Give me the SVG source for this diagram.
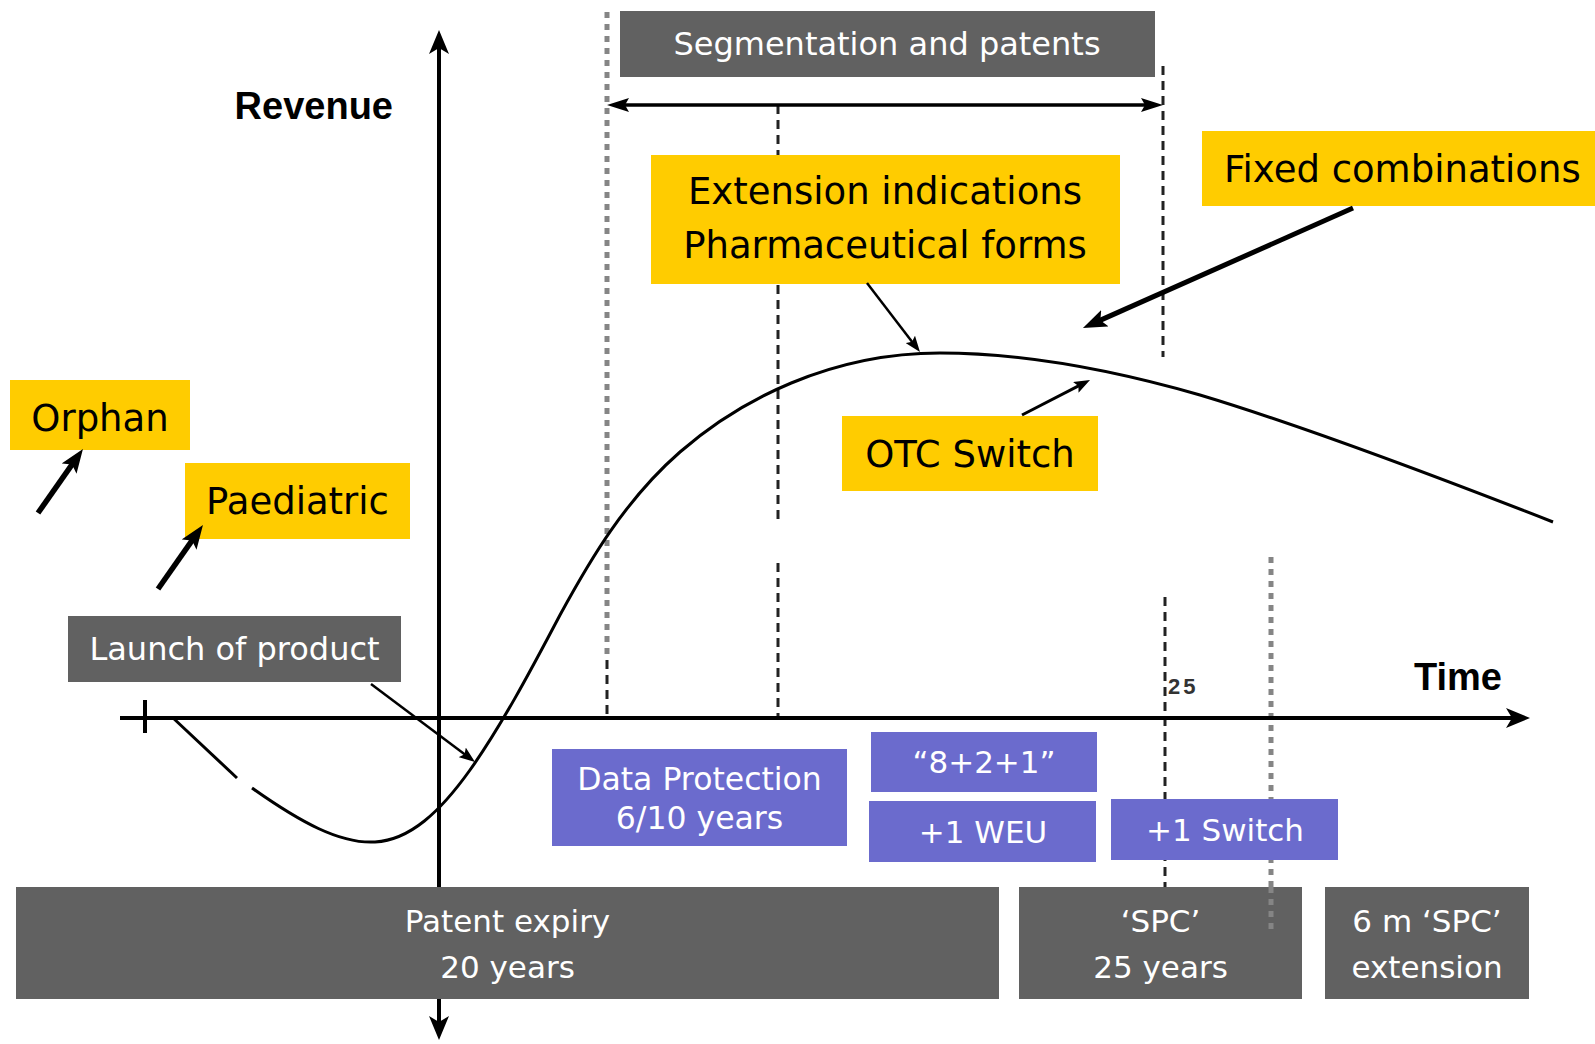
<svg xmlns="http://www.w3.org/2000/svg" width="1595" height="1044" viewBox="0 0 1595 1044">
<style>
.grey{fill:#616161}
.yel{fill:#FFCC00}
.pur{fill:#6B6BCD}
.tw{font-family:"DejaVu Sans","Liberation Sans",sans-serif;fill:#fff;text-anchor:middle}
.tb{font-family:"DejaVu Sans","Liberation Sans",sans-serif;fill:#000;text-anchor:middle;font-size:37px}
.ts{font-family:"DejaVu Sans","Liberation Sans",sans-serif;fill:#000;text-anchor:start;font-size:37px}
.ax{font-family:"Liberation Sans",Arial,sans-serif;font-weight:bold;font-size:38px;fill:#000}
.dash{stroke:#222;stroke-width:3;stroke-dasharray:9 6;fill:none}
.dot{stroke:#858585;stroke-width:5;stroke-dasharray:6 6;fill:none}
.axis{stroke:#000;stroke-width:4;fill:none}
.curve{stroke:#000;stroke-width:3;fill:none}
</style>
<defs>
<marker id="ahA" viewBox="0 0 24 20" refX="14" refY="10" markerWidth="24" markerHeight="20" markerUnits="userSpaceOnUse" orient="auto-start-reverse"><path d="M0,0 L24,10 L0,20 L6,10 z" fill="#000"/></marker>
<marker id="ahM" viewBox="0 0 22 14" refX="12" refY="7" markerWidth="22" markerHeight="14" markerUnits="userSpaceOnUse" orient="auto-start-reverse"><path d="M0,0 L22,7 L0,14 L4,7 z" fill="#000"/></marker>
<marker id="ahB" viewBox="0 0 24 18" refX="14" refY="9" markerWidth="24" markerHeight="18" markerUnits="userSpaceOnUse" orient="auto"><path d="M0,0 L24,9 L0,18 L5,9 z" fill="#000"/></marker>
<marker id="ahS" viewBox="0 0 16 12" refX="8" refY="6" markerWidth="16" markerHeight="12" markerUnits="userSpaceOnUse" orient="auto"><path d="M0,0 L16,6 L0,12 L3,6 z" fill="#000"/></marker>
</defs>
<rect width="1595" height="1044" fill="#fff"/>

<g id="guides">
<line class="dot" x1="607" y1="12" x2="607" y2="660"/>
<line class="dash" x1="607" y1="660" x2="607" y2="718"/>
<line class="dash" x1="778" y1="105" x2="778" y2="524"/>
<line class="dash" x1="778" y1="563" x2="778" y2="718"/>
<line class="dash" x1="1163" y1="66" x2="1163" y2="357"/>
<line class="dash" x1="1165" y1="597" x2="1165" y2="887"/>
<line class="dot" x1="1271" y1="557" x2="1271" y2="887"/>
</g>

<g id="axes">
<line class="axis" x1="439" y1="1030" x2="439" y2="40" marker-start="url(#ahA)" marker-end="url(#ahA)"/>
<line class="axis" x1="120" y1="718" x2="1520" y2="718" stroke-width="3.5" marker-end="url(#ahA)"/>
<line class="axis" x1="145" y1="700" x2="145" y2="733" stroke-width="3"/>
<text class="ax" x="393" y="119" text-anchor="end">Revenue</text>
<text class="ax" x="1414" y="690">Time</text>
<text x="1168" y="694" font-family="Liberation Sans, Arial, sans-serif" font-size="22" font-weight="bold" letter-spacing="3" fill="#333">25</text>
</g>

<g id="curve">
<path class="curve" d="M172,717 L237,778"/>
<path class="curve" d="M252,788 C300,822 340,844 375,842 C410,840 440,812 470,770 C500,728 530,672 560,615 C590,560 625,500 680,452 C740,400 830,353 940,353 C1030,353 1120,372 1200,395 C1300,425 1420,470 1553,522"/>
</g>

<g id="segmentation">
<rect class="grey" x="620" y="11" width="535" height="66"/>
<text class="tw" x="887" y="55" font-size="32">Segmentation and patents</text>
</g>
<g id="extension">
<rect class="yel" x="651" y="155" width="469" height="129"/>
<text class="tb" x="885" y="204">Extension indications</text>
<text class="tb" x="885" y="258">Pharmaceutical forms</text>
</g>
<g id="fixed">
<rect class="yel" x="1202" y="131" width="393" height="75"/>
<text class="ts" x="1224" y="182">Fixed combinations</text>
</g>
<g id="orphan">
<rect class="yel" x="10" y="380" width="180" height="70"/>
<text class="tb" x="100" y="431" font-size="36">Orphan</text>
</g>
<g id="paediatric">
<rect class="yel" x="185" y="463" width="225" height="76"/>
<text class="tb" x="297.5" y="514" font-size="36">Paediatric</text>
</g>
<g id="otc">
<rect class="yel" x="842" y="416" width="256" height="75"/>
<text class="tb" x="970" y="467">OTC Switch</text>
</g>
<g id="launch">
<rect class="grey" x="68" y="616" width="333" height="66"/>
<text class="tw" x="234.5" y="660" font-size="32">Launch of product</text>
</g>
<g id="patent">
<rect class="grey" x="16" y="887" width="983" height="112"/>
<text class="tw" x="507.5" y="932" font-size="31">Patent expiry</text>
<text class="tw" x="507.5" y="978" font-size="31">20 years</text>
</g>
<g id="spc">
<rect class="grey" x="1019" y="887" width="283" height="112"/>
<text class="tw" x="1160.5" y="932" font-size="31">‘SPC’</text>
<text class="tw" x="1160.5" y="978" font-size="31">25 years</text>
</g>
<g id="spcext">
<rect class="grey" x="1325" y="887" width="204" height="112"/>
<text class="tw" x="1427" y="932" font-size="31">6 m ‘SPC’</text>
<text class="tw" x="1427" y="978" font-size="31">extension</text>
</g>
<g id="guide-over">
<line class="dot" x1="1271" y1="887" x2="1271" y2="932"/>
</g>
<g id="dataprotection">
<rect class="pur" x="552" y="749" width="295" height="97"/>
<text class="tw" x="699.5" y="790" font-size="31.5">Data Protection</text>
<text class="tw" x="699.5" y="829" font-size="31.5">6/10 years</text>
</g>
<g id="rule821">
<rect class="pur" x="871" y="732" width="226" height="60"/>
<text class="tw" x="984" y="773" font-size="31">“8+2+1”</text>
</g>
<g id="weu">
<rect class="pur" x="869" y="801" width="227" height="61"/>
<text class="tw" x="983" y="843" font-size="31">+1 WEU</text>
</g>
<g id="switch">
<rect class="pur" x="1111" y="799" width="227" height="61"/>
<text class="tw" x="1225" y="841" font-size="31">+1 Switch</text>
</g>

<g id="connectors">
<line x1="617" y1="105" x2="1153" y2="105" stroke="#000" stroke-width="3.5" marker-start="url(#ahM)" marker-end="url(#ahM)"/>
<line x1="38" y1="513" x2="77.2" y2="457.2" stroke="#000" stroke-width="5.5" marker-end="url(#ahB)"/>
<line x1="158" y1="589" x2="197.2" y2="533.2" stroke="#000" stroke-width="5.5" marker-end="url(#ahB)"/>
<line x1="1353" y1="208" x2="1092.1" y2="323.9" stroke="#000" stroke-width="5" marker-end="url(#ahB)"/>
<line x1="867" y1="283" x2="915.1" y2="345.7" stroke="#000" stroke-width="2.5" marker-end="url(#ahS)"/>
<line x1="1022" y1="415" x2="1082.9" y2="383.7" stroke="#000" stroke-width="3" marker-end="url(#ahS)"/>
<line x1="371" y1="684" x2="468.6" y2="757.2" stroke="#000" stroke-width="2.5" marker-end="url(#ahS)"/>
</g>
</svg>
